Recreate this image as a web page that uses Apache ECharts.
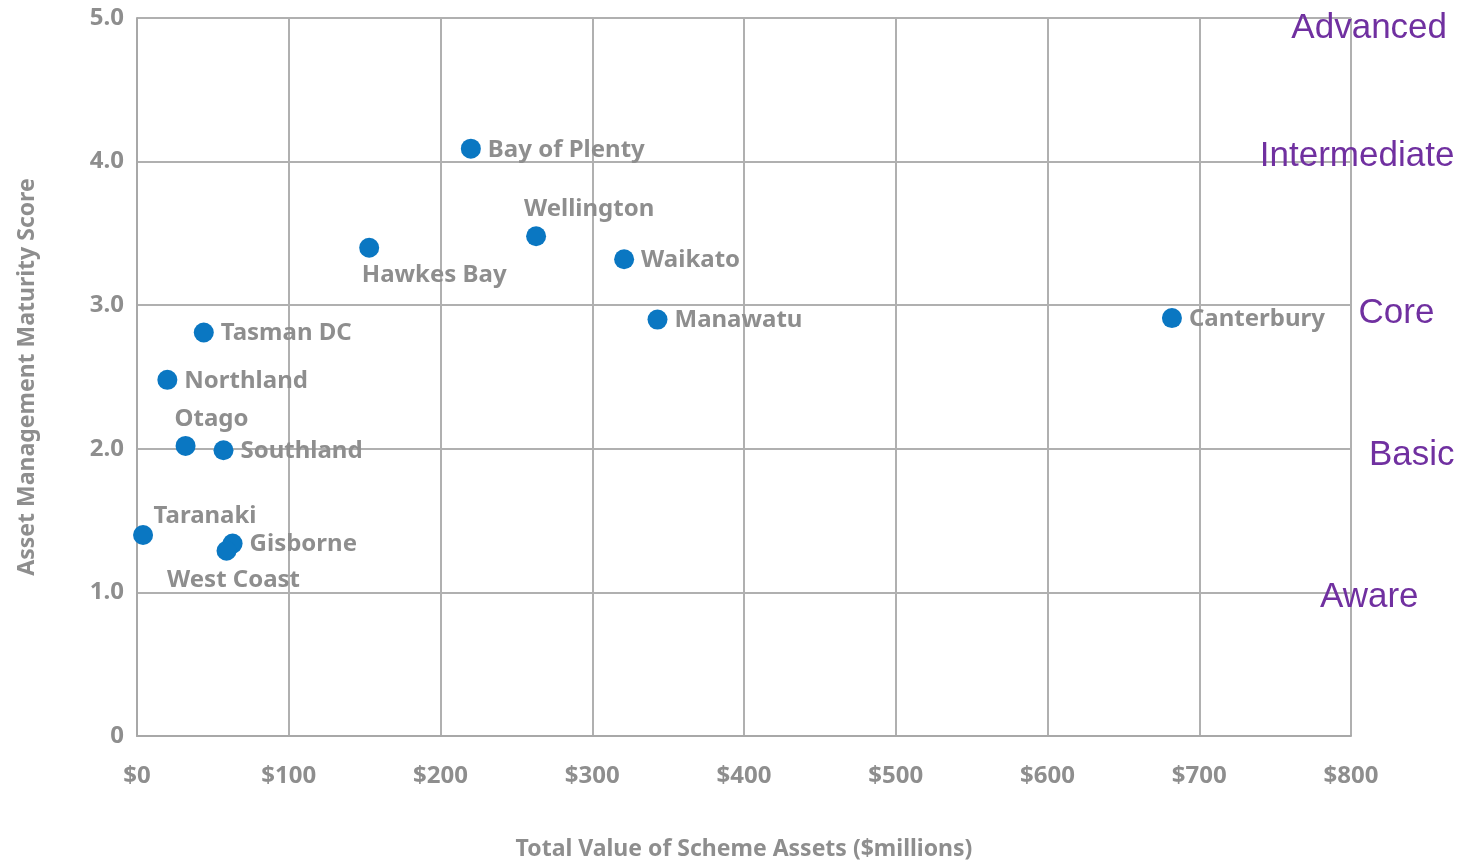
<!DOCTYPE html>
<html>
<head>
<meta charset="utf-8">
<script src="https://cdn.jsdelivr.net/npm/echarts@6/dist/echarts.min.js"></script>
<style>
html,body{margin:0;padding:0;background:#fff;overflow:hidden;}
#chart{width:1479px;height:864px;}
</style>
</head>
<body>
<div id="chart"></div>
<script>
// Data
const names = ['Bay of Plenty','Wellington','Hawkes Bay','Waikato','Manawatu','Canterbury','Tasman DC','Northland','Otago','Southland','Taranaki','Gisborne','West Coast'];
const assetValues = [220, 263, 153, 321, 343, 682, 44, 20, 32, 57, 4, 63, 59];
const maturityScores = [4.09, 3.48, 3.40, 3.32, 2.90, 2.91, 2.81, 2.48, 2.02, 1.99, 1.40, 1.34, 1.29];
const xTicks = [0, 100, 200, 300, 400, 500, 600, 700, 800];
const yTicks = [0, 1, 2, 3, 4, 5];
const levelNames = ['Advanced','Intermediate','Core','Basic','Aware'];
const levelScores = [4.93, 4.035, 2.945, 1.955, 0.965];
const levelX = [812, 804, 830, 840, 812];

// label placement per point
const labelPlacement = {
  'Wellington': {position:'top', offset:[53,0]},
  'Hawkes Bay': {position:'bottom', offset:[65,0]},
  'Otago': {position:'top', offset:[26,0]},
  'Taranaki': {position:'top', offset:[62,8]},
  'West Coast': {position:'bottom', offset:[7,2]}
};

const textColor = '#8e8e8e';
const fontFam = '"Noto Sans", "Open Sans", sans-serif';

const data = names.map((n,i)=>{
  const p = labelPlacement[n] || {position:'right', offset:[2,1]};
  return {
    name:n,
    value:[assetValues[i], maturityScores[i]],
    label:{show:true, position:p.position, offset:p.offset, distance:5}
  };
});

const chart = echarts.init(document.getElementById('chart'), null, {width:1479, height:864});
chart.setOption({
  animation:false,
  grid:{left:137, right:128, top:18, bottom:128, containLabel:false, outerBoundsMode:'none'},
  xAxis:{
    type:'value', min:0, max:800, interval:100,
    name:'Total Value of Scheme Assets ($millions)',
    nameLocation:'middle', nameGap:102,
    nameTextStyle:{color:textColor, fontSize:23, fontWeight:'bold', fontFamily:fontFam},
    axisLine:{show:true, lineStyle:{color:'#a8a8a8', width:2}},
    axisTick:{show:false},
    splitLine:{show:true, lineStyle:{color:'#b0b0b0', width:2}},
    axisLabel:{color:textColor, fontSize:24, fontWeight:'bold', fontFamily:fontFam, margin:28,
      formatter:v=>'$'+v}
  },
  yAxis:{
    type:'value', min:0, max:5, interval:1,
    name:'Asset Management Maturity Score',
    nameLocation:'middle', nameGap:98,
    nameTextStyle:{color:textColor, fontSize:23, fontWeight:'bold', fontFamily:fontFam},
    axisLine:{show:true, lineStyle:{color:'#a8a8a8', width:2}},
    axisTick:{show:false},
    splitLine:{show:true, lineStyle:{color:'#b0b0b0', width:2}},
    axisLabel:{color:textColor, fontSize:24, fontWeight:'bold', fontFamily:fontFam, margin:13,
      formatter:v=> v===0 ? '0' : v.toFixed(1)}
  },
  series:[{
    type:'scatter',
    symbolSize:20,
    itemStyle:{color:'#0a77c2', opacity:1},
    label:{color:textColor, fontSize:24, fontWeight:'bold', fontFamily:fontFam, formatter:'{b}'},
    data:data
  }]
});

const gfx = levelNames.map((n,i)=>{
  const px = chart.convertToPixel({xAxisIndex:0}, levelX[i]);
  const py = chart.convertToPixel({yAxisIndex:0}, levelScores[i]);
  return {
    type:'text', x:px, y:py, z:100,
    style:{text:n, fill:'#7030a0', font:'35px "Liberation Sans", Arial, sans-serif', align:'center', verticalAlign:'middle'}
  };
});
chart.setOption({graphic:gfx});
</script>
</body>
</html>
